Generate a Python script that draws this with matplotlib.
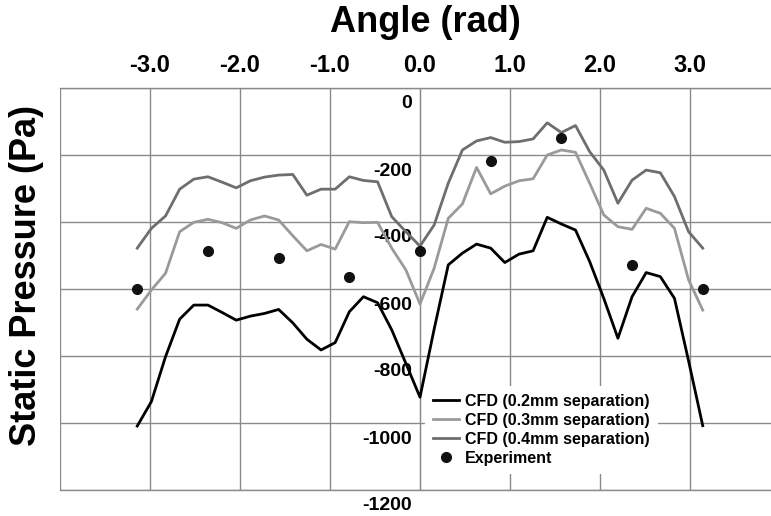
import numpy as np
import matplotlib
matplotlib.use("Agg")
import matplotlib.pyplot as plt
from matplotlib.transforms import ScaledTranslation

plt.rcParams['font.family'] = ['Liberation Sans', 'DejaVu Sans']
plt.rcParams['font.weight'] = 'bold'

# angle grid of the CFD results, 9 degree steps from -180 to 180
angle_deg = np.arange(-180, 181, 9)
angle = np.deg2rad(angle_deg)

cfd_02 = [-1009, -936, -802, -690, -648, -648, -670, -693, -681, -673, -661,
          -701, -750, -782, -760, -668, -623, -641, -722, -822, -923,
          -720, -528, -493, -466, -478, -521, -496, -486, -386, -406,
          -424, -518, -628, -747, -623, -551, -563, -628, -815, -1008]
cfd_03 = [-660, -603, -553, -429, -401, -392, -402, -419, -394, -382, -394,
          -441, -486, -467, -481, -399, -402, -401, -478, -543, -645,
          -538, -389, -346, -237, -316, -293, -277, -271, -200, -185,
          -192, -284, -379, -414, -422, -359, -374, -419, -573, -663]
cfd_04 = [-478, -419, -382, -302, -272, -265, -281, -298, -277, -266, -260,
          -258, -320, -302, -302, -265, -276, -280, -384, -429, -472,
          -409, -284, -185, -158, -148, -162, -160, -152, -104, -133,
          -112, -190, -245, -344, -275, -245, -253, -324, -429, -478]

exp_deg = [-180, -135, -90, -45, 0, 45, 90, 135, 180]
exp_pa = [-600, -487, -507, -565, -487, -219, -149, -527, -601]

x_ticks = [-4, -3, -2, -1, 0, 1, 2, 3]
x_labels = ['', '-3.0', '-2.0', '-1.0', '0.0', '1.0', '2.0', '3.0']
y_ticks = [0, -200, -400, -600, -800, -1000, -1200]
y_labels = ['0', '-200', '-400', '-600', '-800', '-1000', '-1200']

grid_col = '#8a8a8a'

fig = plt.figure(figsize=(7.71, 5.16), dpi=100)
ax = fig.add_axes([60 / 771, 26 / 516, 711 / 771, 402 / 516])

ax.plot(angle, cfd_02, color='black', lw=2.0, label='CFD (0.2mm separation)', zorder=3)
ax.plot(angle, cfd_03, color='#9a9a9a', lw=2.0, label='CFD (0.3mm separation)', zorder=3)
ax.plot(angle, cfd_04, color='#6e6e6e', lw=2.0, label='CFD (0.4mm separation)', zorder=3)
ax.plot(np.deg2rad(exp_deg), exp_pa, 'o', color='#111111', ms=7,
        label='Experiment', zorder=4)

ax.set_xlim(-4, 3.9)
ax.set_ylim(-1200, 0)
ax.set_xticks(x_ticks, x_labels)
ax.set_yticks(y_ticks, y_labels)
ax.grid(True, color=grid_col, lw=1.0)
ax.set_axisbelow(True)

# x axis on top, y labels sitting on the x=0 line
ax.xaxis.tick_top()
ax.tick_params(axis='x', length=0, pad=8, labelsize=17)
ax.tick_params(axis='y', length=0, pad=6, labelsize=14)
ax.spines['left'].set_position(('data', 0))
ax.spines['left'].set_color(grid_col)
ax.spines['right'].set_visible(False)
for s in ['top', 'bottom']:
    ax.spines[s].set_color(grid_col)
    ax.spines[s].set_linewidth(1.0)

shift = ScaledTranslation(0, -14 / 100, fig.dpi_scale_trans)
for lab in ax.get_yticklabels():
    lab.set_transform(lab.get_transform() + shift)
    lab.set_fontweight('bold')
for lab in ax.get_xticklabels():
    lab.set_fontweight('bold')

leg = ax.legend(loc='lower left', bbox_to_anchor=((425 - 60) / 711, 16 / 402),
                borderaxespad=0, frameon=True, facecolor='white', edgecolor='none',
                framealpha=1, fontsize=11.5, handlelength=1.6, handletextpad=0.4,
                labelspacing=0.25, borderpad=0.5)
for t in leg.get_texts():
    t.set_fontweight('bold')
leg.set_zorder(5)

fig.text(425 / 771, 1 - 22 / 516, 'Angle (rad)', ha='center', va='center',
         fontsize=26, fontweight='bold')
fig.text(27 / 771, 1 - 275 / 516, 'Static Pressure (Pa)', ha='center', va='center',
         rotation=90, fontsize=26, fontweight='bold')

fig.savefig('out.png', dpi=100)
